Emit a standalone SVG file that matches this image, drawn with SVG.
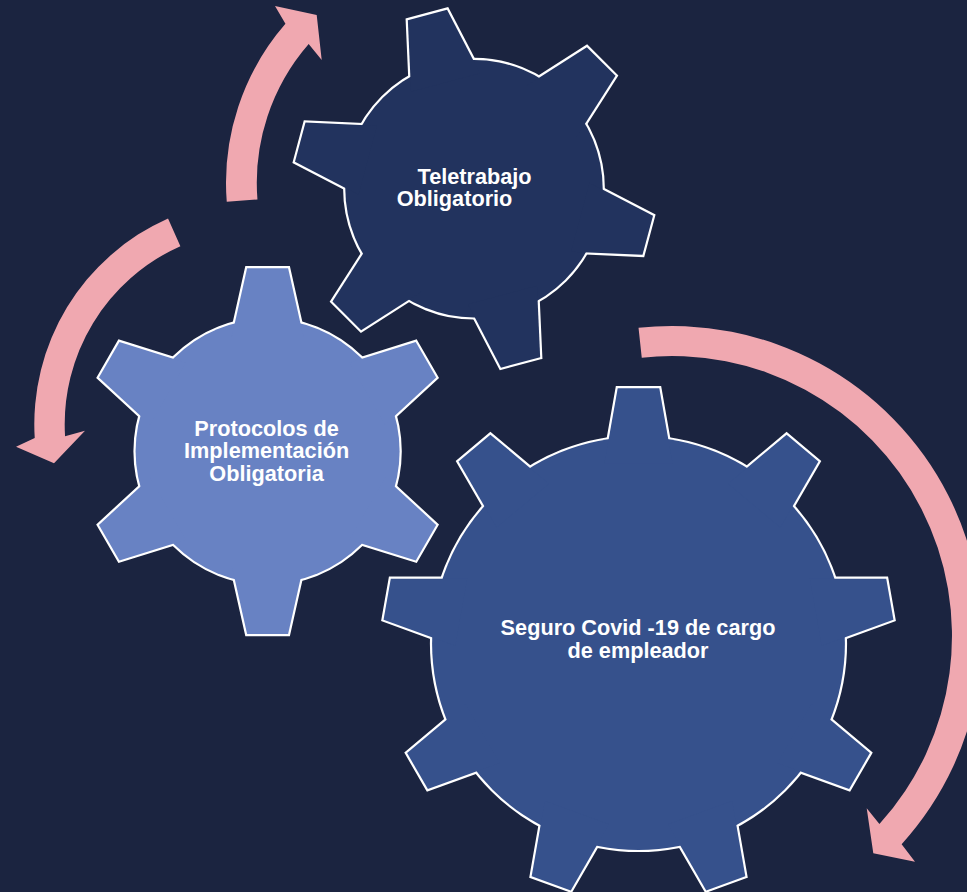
<svg xmlns="http://www.w3.org/2000/svg" xmlns:xlink="http://www.w3.org/1999/xlink" width="967" height="892" viewBox="0 0 967 892">
  <style>
    .bg { fill: #1B2440; }
    .edge { stroke: #FFFFFF; stroke-width: 4.4; stroke-linejoin: miter; }
    .arrow { fill: #F0A8B0; stroke: none; }
    .label { fill: #FFFFFF; font-family: "Liberation Sans", Arial, sans-serif; font-weight: bold; font-size: 21.7px; }
  </style>
  <defs>
    <polygon id="toothBig" points="-20.8,-255.2 20.8,-255.2 34.1,-180 -34.1,-180"/>
    <polygon id="toothTop" points="-20.3,-179.9 20.3,-179.9 35.7,-110 -35.7,-110"/>
    <polygon id="toothLeft" points="-20.5,-182.9 20.5,-182.9 35.75,-115 -35.75,-115"/>
    <g id="shapeBig">
      <circle cx="0" cy="0" r="206.4"/>
      <use href="#toothBig" transform="rotate(0)"/>
      <use href="#toothBig" transform="rotate(40)"/>
      <use href="#toothBig" transform="rotate(80)"/>
      <use href="#toothBig" transform="rotate(120)"/>
      <use href="#toothBig" transform="rotate(160)"/>
      <use href="#toothBig" transform="rotate(200)"/>
      <use href="#toothBig" transform="rotate(240)"/>
      <use href="#toothBig" transform="rotate(280)"/>
      <use href="#toothBig" transform="rotate(320)"/>
    </g>
    <g id="shapeTop">
      <circle cx="0" cy="0" r="128.7"/>
      <use href="#toothTop" transform="rotate(-15)"/>
      <use href="#toothTop" transform="rotate(45)"/>
      <use href="#toothTop" transform="rotate(105)"/>
      <use href="#toothTop" transform="rotate(165)"/>
      <use href="#toothTop" transform="rotate(225)"/>
      <use href="#toothTop" transform="rotate(285)"/>
    </g>
    <g id="shapeLeft">
      <circle cx="0" cy="0" r="132"/>
      <use href="#toothLeft" transform="rotate(0)"/>
      <use href="#toothLeft" transform="rotate(60)"/>
      <use href="#toothLeft" transform="rotate(120)"/>
      <use href="#toothLeft" transform="rotate(180)"/>
      <use href="#toothLeft" transform="rotate(240)"/>
      <use href="#toothLeft" transform="rotate(300)"/>
    </g>
  </defs>

  <rect class="bg" x="0" y="0" width="967" height="892"/>

  <g id="gear-teletrabajo" transform="translate(474,188.7)">
    <use href="#shapeTop" class="edge" fill="#22335E"/>
    <use href="#shapeTop" fill="#22335E"/>
    <text class="label" x="-56.5" y="-4.7">Teletrabajo</text>
    <text class="label" x="-77.3" y="17.6">Obligatorio</text>
  </g>

  <g id="gear-protocolos" transform="translate(267.6,451.2)">
    <use href="#shapeLeft" class="edge" fill="#6882C3"/>
    <use href="#shapeLeft" fill="#6882C3"/>
    <text class="label" text-anchor="middle" x="-1" y="-15.7">Protocolos de</text>
    <text class="label" text-anchor="middle" x="-1" y="7.1">Implementación</text>
    <text class="label" text-anchor="middle" x="-1" y="29.8">Obligatoria</text>
  </g>

  <g id="gear-seguro" transform="translate(638.5,643.5)">
    <use href="#shapeBig" class="edge" fill="#36518C"/>
    <use href="#shapeBig" fill="#36518C"/>
    <text class="label" text-anchor="middle" x="-0.5" y="-8.8">Seguro Covid -19 de cargo</text>
    <text class="label" text-anchor="middle" x="-0.5" y="14">de empleador</text>
  </g>

  <g id="connectors">
    <path id="arrow-top" class="arrow" d="M226.75,201.81 A242.3,242.3 0 0 1 285.43,23.84 L275,6 L316.7,15 L321.7,60 L308.68,44.04 A211.5,211.5 0 0 0 257.45,199.39 Z"/>
    <path id="arrow-left" class="arrow" d="M168.02,218.39 A225.4,225.4 0 0 0 34.72,438.06 L16,446.7 L54,463.3 L85,430.7 L65.06,436.2 A195,195 0 0 1 180.39,246.16 Z"/>
    <path id="arrow-right" class="arrow" d="M638.52,327.81 A310,310 0 0 1 901.65,844.23 L915,861.7 L873.3,853.3 L866.7,808.3 L879.42,824.08 A280,280 0 0 0 641.76,357.64 Z"/>
  </g>
</svg>
